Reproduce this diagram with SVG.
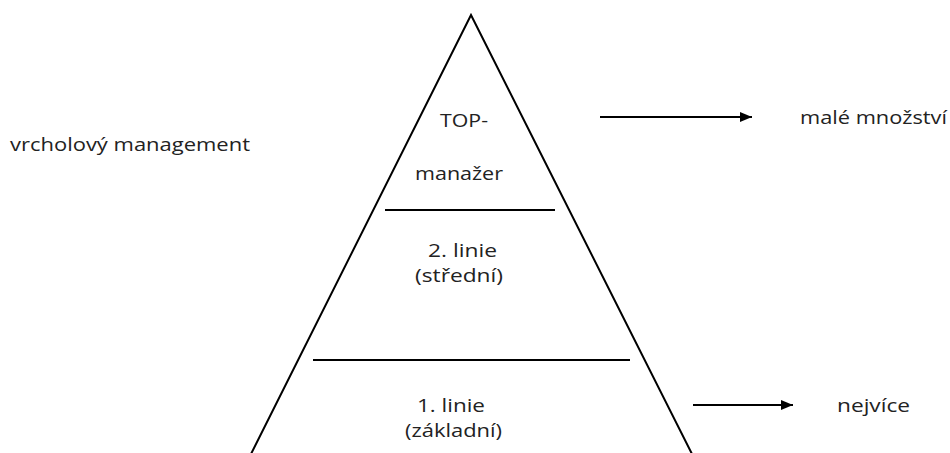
<svg xmlns="http://www.w3.org/2000/svg" width="950" height="453" viewBox="0 0 950 453">
<style>
text{font-family:"Open Sans","Liberation Sans",sans-serif;font-size:19px;fill:#222}
.ln{stroke:#000;stroke-width:2;fill:none}
</style>
<defs>
<marker id="ah" viewBox="0 0 12 10" refX="12" refY="5" markerWidth="12" markerHeight="10" markerUnits="userSpaceOnUse" orient="auto">
<path d="M0,0 L12,5 L0,10 Z" fill="#000"/>
</marker>
</defs>
<rect width="950" height="453" fill="#fff"/>
<g id="pyramid">
<polyline class="ln" points="250,456 471,15 693,456"/>
<line class="ln" x1="385" y1="210" x2="555" y2="210"/>
<line class="ln" x1="313" y1="360" x2="630" y2="360"/>
</g>
<g id="top">
<text x="440" y="127" textLength="48" lengthAdjust="spacingAndGlyphs">TOP-</text>
<text x="415" y="180" textLength="88" lengthAdjust="spacingAndGlyphs">manažer</text>
</g>
<g id="middle">
<text x="428" y="257" textLength="69" lengthAdjust="spacingAndGlyphs">2. linie</text>
<text x="415" y="282" textLength="88" lengthAdjust="spacingAndGlyphs">(střední)</text>
</g>
<g id="base">
<text x="417" y="412" textLength="68" lengthAdjust="spacingAndGlyphs">1. linie</text>
<text x="405" y="437" textLength="97" lengthAdjust="spacingAndGlyphs">(základní)</text>
</g>
<g id="label-left">
<text x="10" y="151" textLength="240" lengthAdjust="spacingAndGlyphs">vrcholový management</text>
</g>
<g id="label-small">
<text x="800" y="124" textLength="147" lengthAdjust="spacingAndGlyphs">malé množství</text>
</g>
<g id="label-most">
<text x="837" y="412" textLength="73" lengthAdjust="spacingAndGlyphs">nejvíce</text>
</g>
<g id="connectors">
<line class="ln" x1="600" y1="117" x2="752" y2="117" marker-end="url(#ah)"/>
<line class="ln" x1="693" y1="405" x2="793" y2="405" marker-end="url(#ah)"/>
</g>
</svg>
